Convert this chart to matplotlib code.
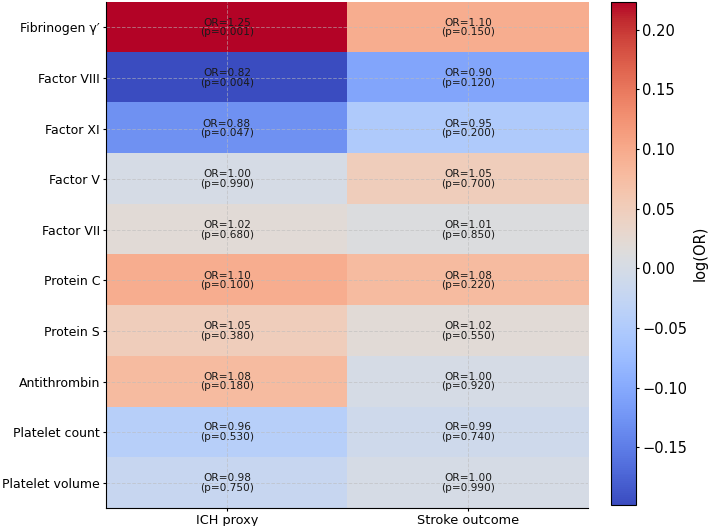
import numpy as np
import matplotlib.pyplot as plt

# data
factors = ["Fibrinogen γ′", "Factor VIII", "Factor XI", "Factor V", "Factor VII",
           "Protein C", "Protein S", "Antithrombin", "Platelet count", "Platelet volume"]
outcomes = ["ICH proxy", "Stroke outcome"]
or_ich = [1.25, 0.82, 0.88, 1.00, 1.02, 1.10, 1.05, 1.08, 0.96, 0.98]
p_ich = [0.001, 0.004, 0.047, 0.990, 0.680, 0.100, 0.380, 0.180, 0.530, 0.750]
or_stroke = [1.10, 0.90, 0.95, 1.05, 1.01, 1.08, 1.02, 1.00, 0.99, 1.00]
p_stroke = [0.150, 0.120, 0.200, 0.700, 0.850, 0.220, 0.550, 0.920, 0.740, 0.990]

ors = np.column_stack([or_ich, or_stroke])
pvals = np.column_stack([p_ich, p_stroke])
log_or = np.log(ors)

fig = plt.figure(figsize=(7.09, 5.26), dpi=100)
ax = fig.add_axes([0.15, 0.034, 0.68, 0.962])
cax = fig.add_axes([0.862, 0.04, 0.035, 0.956])

im = ax.imshow(log_or, cmap="coolwarm", aspect="auto")

for i in range(len(factors)):
    for j in range(len(outcomes)):
        ax.text(j, i, f"OR={ors[i, j]:.2f}\n(p={pvals[i, j]:.3f})",
                ha="center", va="center", fontsize=7.6, linespacing=0.95,
                color="#1a1a1a")

ax.set_xticks(range(len(outcomes)))
ax.set_xticklabels(outcomes, fontsize=9.3)
ax.set_yticks(range(len(factors)))
ax.set_yticklabels(factors, fontsize=9.0)
ax.tick_params(length=2.5, pad=2)
ax.grid(True, linestyle="--", color="#bbbbbb", alpha=0.55, linewidth=0.7)
ax.spines["top"].set_visible(False)
ax.spines["right"].set_visible(False)

cb = fig.colorbar(im, cax=cax)
cb.set_label("log(OR)", fontsize=10.5, labelpad=4)
cb.ax.tick_params(labelsize=10.5, length=2.5, pad=2)

fig.savefig("out.png", dpi=100)
